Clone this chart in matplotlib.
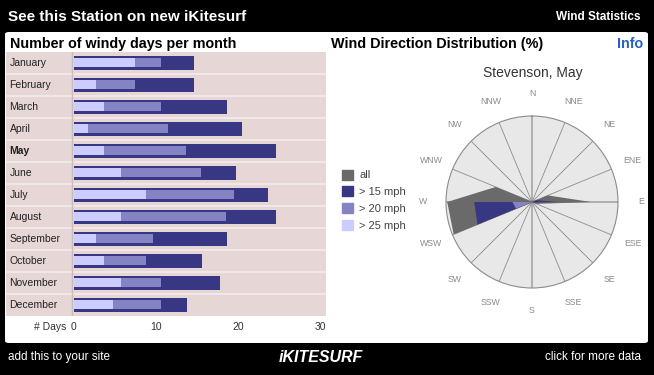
"""
Wind statistics widget: windy days per month + wind direction radar
"""
import matplotlib
matplotlib.use('Agg')
import matplotlib.pyplot as plt
import numpy as np
from matplotlib.patches import FancyBboxPatch, Patch

W, H = 654, 375

months = ['January', 'February', 'March', 'April', 'May', 'June', 'July',
          'August', 'September', 'October', 'November', 'December']
# days per month, cumulative thresholds
days_25 = [7.5, 2.7, 3.6, 1.7, 3.6, 5.7, 8.8, 5.7, 2.7, 3.6, 5.7, 4.8]
days_20 = [10.6, 7.5, 10.6, 11.5, 13.6, 15.5, 19.5, 18.5, 9.6, 8.8, 10.6, 10.6]
days_15 = [14.6, 14.6, 18.7, 20.5, 24.6, 19.7, 23.6, 24.6, 18.7, 15.6, 17.8, 13.8]
day_ticks = [0, 10, 20, 30]

directions = ['N', 'NNE', 'NE', 'ENE', 'E', 'ESE', 'SE', 'SSE',
              'S', 'SSW', 'SW', 'WSW', 'W', 'WNW', 'NW', 'NNW']
# percent of time per direction (May)
pct_all = [0.3, 0.3, 0.3, 7.0, 24.0, 2.0, 0.3, 0.3, 0.3, 0.3, 0.5, 34.5, 34.5, 16.0, 0.3, 0.3]
pct_15 = [0, 0, 0, 2.0, 10.0, 0.5, 0, 0, 0, 0, 0, 24.0, 23.5, 0, 0, 0]
pct_20 = [0, 0, 0, 0, 1.0, 0, 0, 0, 0, 0, 0, 7.0, 8.0, 0, 0, 0]
pct_25 = [0, 0, 0, 0, 0, 0, 0, 0, 0, 0, 0, 0.3, 0.5, 0, 0, 0]
rmax = 35.0

dark = '#373783'
medium = '#8484c4'
light = '#ccccff'
grey = '#6a6a6a'

def box(x0, y0, x1, y1):
    return [x0 / W, 1 - y1 / H, (x1 - x0) / W, (y1 - y0) / H]

def ftext(x, y, s, **kw):
    fig.text(x / W, 1 - y / H, s, **kw)

plt.rcParams['font.family'] = ['Liberation Sans', 'DejaVu Sans']
fig = plt.figure(figsize=(W / 100, H / 100), dpi=100)
fig.patch.set_facecolor('black')

# white panel
panel = FancyBboxPatch((5 / W, 1 - 343 / H), 643 / W, 311 / H,
                       boxstyle='round,pad=0,rounding_size=0.006',
                       transform=fig.transFigure, facecolor='white',
                       edgecolor='none', zorder=-5)
fig.patches.append(panel)

ftext(8, 17, 'See this Station on new iKitesurf', color='white',
      fontsize=11, fontweight='bold', va='center')
ftext(641, 17, 'Wind Statistics', color='white', fontsize=8.5,
      fontweight='bold', va='center', ha='right')
ftext(10, 44, 'Number of windy days per month', color='black',
      fontsize=10.3, fontweight='bold', va='center')
ftext(331, 44, 'Wind Direction Distribution (%)', color='black',
      fontsize=10.4, fontweight='bold', va='center')
ftext(643, 44, 'Info', color='#2a5fc8', fontsize=10.3, fontweight='bold',
      va='center', ha='right')

# footer
ftext(8, 357, 'add this to your site', color='white', fontsize=8.5,
      va='center')
ftext(321, 358, 'iKITESURF', color='white', fontsize=11.5,
      fontweight='bold', fontstyle='italic', va='center', ha='center')
ftext(641, 357, 'click for more data', color='white', fontsize=8.5,
      va='center', ha='right')

# ---- bar chart ----
ax = fig.add_axes(box(6, 52, 326, 316))
ax.set_facecolor('#e6d6d6')
px = (320 - 74) / 30.0
ax.set_xlim(-(74 - 6) / px, (326 - 74) / px)
ax.set_ylim(12, 0)
y = np.arange(12) + 0.5
ax.barh(y, days_15, height=0.6, color=dark, edgecolor='none')
ax.barh(y - 0.02, days_20, height=0.43, color=medium, edgecolor='none')
ax.barh(y - 0.02, days_25, height=0.43, color=light, edgecolor='none')
for i in range(1, 12):
    ax.axhline(i, color='#f3ecec', lw=1.2)
ax.axvline(-2 / px, color='#cbbcbc', lw=1)
for i, m in enumerate(months):
    ax.text(-(74 - 6) / px + 3.5 / px, y[i], m, fontsize=7.5, va='center',
            ha='left', color='#222222',
            fontweight='bold' if m == 'May' else 'normal')
ax.set_xticks(day_ticks)
ax.set_xticklabels([str(t) for t in day_ticks], fontsize=7.5, color='#333333')
ax.tick_params(axis='x', length=0, pad=4)
ax.set_yticks([])
for s in ax.spines.values():
    s.set_visible(False)
ax.text(-(74 - 66) / px, -0.021, '# Days', transform=ax.get_xaxis_transform(),
        fontsize=7.5, ha='right', va='top', color='#333333')

# ---- radar ----
pax = fig.add_axes(box(446, 116, 618, 288), projection='polar')
pax.set_theta_zero_location('N')
pax.set_theta_direction(-1)
pax.set_facecolor('#e8e8e8')
theta = np.deg2rad(np.arange(16) * 22.5)
pax.set_ylim(0, rmax)
pax.grid(False)
for i, a in enumerate(theta):
    major = i % 4 == 0
    pax.plot([a, a], [0, rmax], color='#aaaaaa' if major else '#8c8c8c',
             lw=1.3 if major else 0.6, zorder=1)
tt = np.append(theta, theta[0])
for vals, col in [(pct_all, grey), (pct_15, dark), (pct_20, medium),
                  (pct_25, light)]:
    r = np.append(vals, vals[0])
    pax.fill(tt, r, color=col, lw=0, zorder=2)
pax.spines['polar'].set_color('#8c8c8c')
pax.spines['polar'].set_linewidth(0.8)
pax.set_xticks(theta)
pax.set_xticklabels(directions, fontsize=6.3, color='#8a8a8a')
pax.tick_params(axis='x', pad=6)
pax.set_yticks([])
ftext(533, 73, 'Stevenson, May', fontsize=10, color='#333333',
      ha='center', va='center')

handles = [Patch(color=c) for c in [grey, dark, medium, light]]
fig.legend(handles, ['all', '> 15 mph', '> 20 mph', '> 25 mph'],
           loc='upper left', bbox_to_anchor=(336 / W, 1 - 164 / H),
           frameon=False, fontsize=8, labelcolor='#444444',
           handlelength=1.0, handleheight=1.0, handletextpad=0.6,
           labelspacing=0.55, borderpad=0)

fig.savefig('out.png', dpi=100, facecolor=fig.get_facecolor())
